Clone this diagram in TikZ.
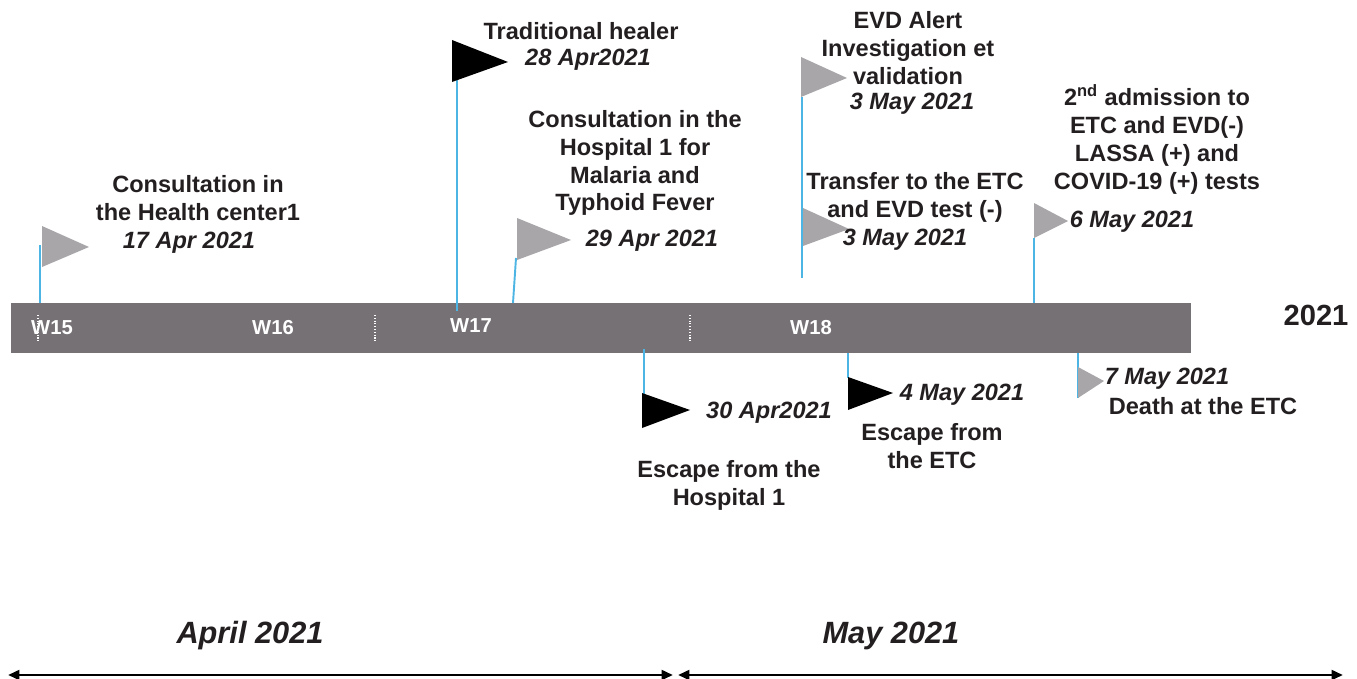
\documentclass[tikz,border=0pt]{standalone}
\usepackage{fontspec}
\setmainfont{Liberation Sans}
\usetikzlibrary{arrows.meta}
\definecolor{bargray}{RGB}{118,113,117}
\definecolor{flaggray}{RGB}{168,166,169}
\definecolor{poleblue}{RGB}{77,181,227}
\definecolor{ink}{RGB}{35,31,32}

\begin{document}
\begin{tikzpicture}[x=0.02cm, y=-0.02cm,
  every node/.style={inner sep=0pt, text=ink},
  txt/.style={align=center, font=\fontsize{13.4}{15.9}\selectfont\bfseries},
  datetxt/.style={font=\fontsize{13.4}{15.9}\selectfont\bfseries\itshape},
  week/.style={text=white, font=\fontsize{11.5}{13}\selectfont\bfseries},
  month/.style={font=\fontsize{17.5}{20}\selectfont\bfseries\itshape},
  pole/.style={poleblue, line width=1.1pt},
  sep/.style={white, densely dotted, line width=0.6pt},
  span/.style={{Triangle[length=6.5pt,width=5.5pt]}-{Triangle[length=6.5pt,width=5.5pt]}, line width=1.6pt}]
\useasboundingbox (0,0) rectangle (1357,679);

% time bar
\fill[bargray] (11,303) rectangle (1191,353);
\draw[sep] (38,315)--(38,343);
\draw[sep] (375,315)--(375,343);
\draw[sep] (690,315)--(690,343);
\node (w15) at (52,328) [week] {W15};
\node (w16) at (273,328) [week] {W16};
\node (w17) at (471,326) [week] {W17};
\node (w18) at (811,328) [week] {W18};
\node (yr) at (1316,315) [font=\fontsize{16.6}{19}\selectfont\bfseries] {2021};

% poles
\coordinate (p1a) at (40,245);   \coordinate (p1b) at (40,303);
\coordinate (p2a) at (457,80);   \coordinate (p2b) at (457,311);
\coordinate (p3a) at (516,258);  \coordinate (p3b) at (513,303);
\coordinate (p4a) at (644,349);  \coordinate (p4b) at (644,395);
\coordinate (p5a) at (802,97);   \coordinate (p5b) at (802,278);
\coordinate (p7a) at (1034,238); \coordinate (p7b) at (1034,303);
\coordinate (p8a) at (848,353);  \coordinate (p8b) at (848,378);
\coordinate (p9a) at (1078,353); \coordinate (p9b) at (1078,398);
\draw[pole] (p1a)--(p1b);
\draw[pole] (p2a)--(p2b);
\draw[pole] (p3a)--(p3b);
\draw[pole] (p4a)--(p4b);
\draw[pole] (p5a)--(p5b);
\draw[pole] (p7a)--(p7b);
\draw[pole] (p8a)--(p8b);
\draw[pole] (p9a)--(p9b);

% flags
\fill[flaggray] (42,226)--(89,247)--(42,267)--cycle;
\fill[black] (452,40)--(508,62)--(452,82)--cycle;
\fill[flaggray] (517,218)--(571,240)--(517,260)--cycle;
\fill[black] (642,393)--(690,410)--(642,428)--cycle;
\fill[flaggray] (801,57)--(847,78)--(801,97)--cycle;
\fill[flaggray] (803,208)--(849,229)--(803,246)--cycle;
\fill[flaggray] (1034,203)--(1068,221)--(1034,238)--cycle;
\fill[black] (848,377)--(893,393)--(848,410)--cycle;
\fill[flaggray] (1078,367)--(1104,381)--(1078,398)--cycle;

% events above the bar
\node (hc) at (198,198) [txt] {Consultation in\\the Health center1};
\node (d17) at (189,243) [datetxt] {17 Apr 2021};
\node (heal) at (581,31) [txt] {Traditional healer};
\node (d28) at (588,60) [datetxt] {28 Apr2021};
\node (hosp) at (635,163) [txt] {Consultation in the\\Hospital 1 for\\Malaria and\\Typhoid Fever};
\node (d29) at (652,241) [datetxt] {29 Apr 2021};
\node (alert) at (908,48) [txt] {EVD Alert\\Investigation et\\validation};
\node (d3a) at (912,104) [datetxt] {3 May 2021};
\node (trans) at (915,197) [txt] {Transfer to the ETC\\and EVD test (-)};
\node (d3b) at (905,240) [datetxt] {3 May 2021};
\node (adm) at (1157,139) [txt] {2\textsuperscript{nd} admission to\\ETC and EVD(-)\\LASSA (+) and\\COVID-19 (+) tests};
\node (d6) at (1132,222) [datetxt] {6 May 2021};

% events below the bar
\node (d30) at (769,413) [datetxt] {30 Apr2021};
\node (esc1) at (729,485) [txt] {Escape from the\\Hospital 1};
\node (d4) at (962,395) [datetxt] {4 May 2021};
\node (esc2) at (932,446) [txt] {Escape from\\the ETC};
\node (d7) at (1167,379) [datetxt] {7 May 2021};
\node (death) at (1203,406) [txt] {Death at the ETC};

% months
\node (apr) at (250,636) [month] {April 2021};
\node (may) at (891,636) [month] {May 2021};
\coordinate (a1) at (8,675);   \coordinate (a2) at (673,675);
\coordinate (m1) at (678,675); \coordinate (m2) at (1343,675);
\draw[span] (a1)--(a2);
\draw[span] (m1)--(m2);
\end{tikzpicture}
\end{document}
